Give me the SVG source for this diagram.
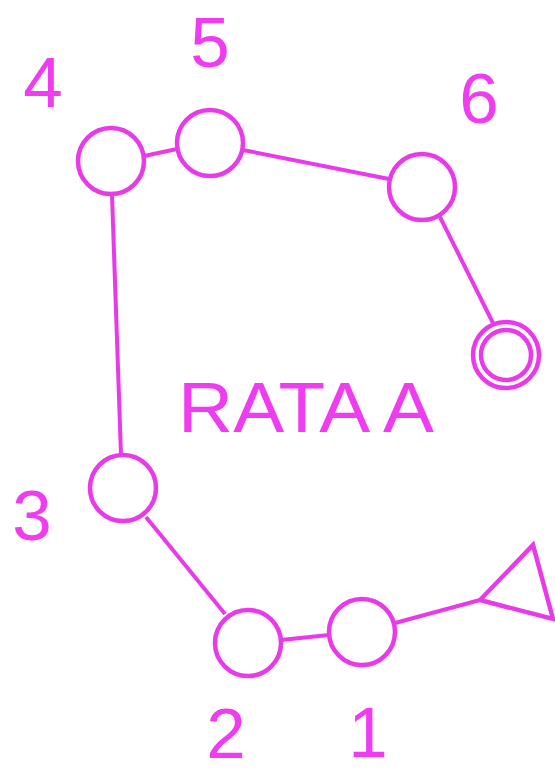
<svg xmlns="http://www.w3.org/2000/svg" width="555" height="773" viewBox="0 0 555 773">
<style>
.n{fill:none;stroke:#e93ae9;stroke-width:4.5}
.e{fill:none;stroke:#e93ae9;stroke-width:4}
.t{fill:#f03cf0;font-family:"Liberation Sans",Arial,sans-serif;font-size:71px;text-anchor:middle}
</style>
<rect width="555" height="773" fill="#fff"/>
<g id="connectors">
<line class="e" x1="144" y1="156" x2="177" y2="149"/>
<line class="e" x1="243" y1="150" x2="389" y2="179"/>
<line class="e" x1="440" y1="217" x2="493" y2="323"/>
<line class="e" x1="112" y1="195" x2="121" y2="455"/>
<line class="e" x1="146" y1="517" x2="225" y2="614"/>
<line class="e" x1="281" y1="640" x2="329" y2="635"/>
<line class="e" x1="395" y1="623" x2="480" y2="600"/>
</g>
<g id="node4"><circle class="n" cx="111" cy="161" r="33"/><text class="t" x="43" y="107">4</text></g>
<g id="node5"><circle class="n" cx="210" cy="143" r="33"/><text class="t" x="210" y="67">5</text></g>
<g id="node6"><circle class="n" cx="422" cy="187" r="33"/><text class="t" x="479" y="123">6</text></g>
<g id="end"><circle class="n" cx="506" cy="355" r="33"/><circle class="n" cx="506" cy="355" r="25"/></g>
<g id="label"><text class="t" x="178" y="432" style="text-anchor:start" textLength="256" lengthAdjust="spacingAndGlyphs">RATA A</text></g>
<g id="node3"><circle class="n" cx="123" cy="488" r="33"/><text class="t" x="32" y="540">3</text></g>
<g id="node2"><circle class="n" cx="248" cy="643" r="33"/><text class="t" x="226" y="758">2</text></g>
<g id="node1"><circle class="n" cx="362" cy="632" r="33"/><text class="t" x="368" y="757">1</text></g>
<g id="start"><polygon class="n" points="480,600 533,545 553,619"/></g>
</svg>
